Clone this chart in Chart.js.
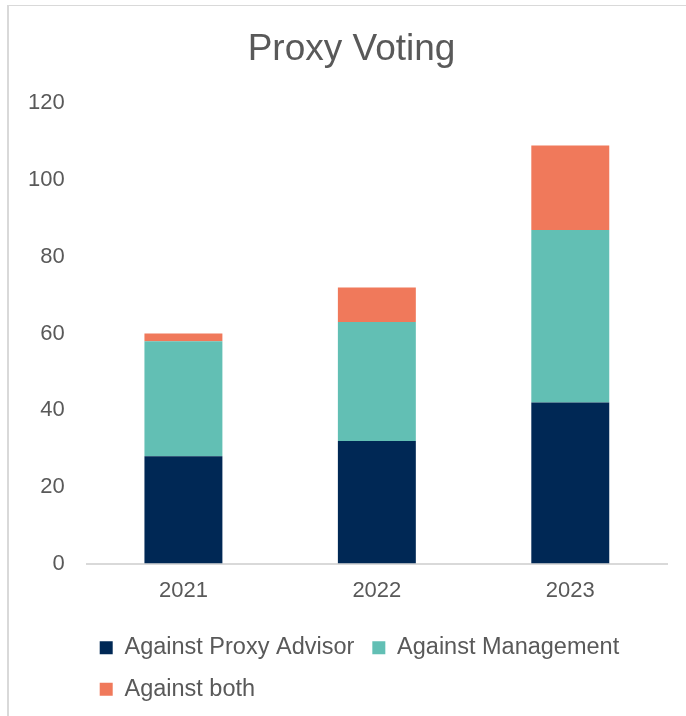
<!DOCTYPE html>
<html>
<head>
<meta charset="utf-8">
<script src="https://cdn.jsdelivr.net/npm/chart.js@4"></script>
<style>
  html, body { margin: 0; padding: 0; background: #ffffff; }
  #wrap { position: relative; width: 686px; height: 716px; overflow: hidden; }
  #frame { position: absolute; left: 7px; top: 5px; right: 0; bottom: 0;
           border-left: 2px solid #d9d9d9; border-top: 1px solid #d9d9d9; }
  canvas { position: absolute; left: 0; top: 0; }
</style>
</head>
<body>
<div id="wrap">
  <div id="frame"></div>
  <canvas id="c" width="686" height="716"></canvas>
</div>
<script>
const categories = ["2021", "2022", "2023"];
const seriesNames = ["Against Proxy Advisor", "Against Management", "Against both"];
const againstProxyAdvisor = [28, 32, 42];
const againstManagement = [30, 31, 45];
const againstBoth = [2, 9, 22];
const yTicks = [0, 20, 40, 60, 80, 100, 120];
const titleText = "Proxy Voting";

const colors = ["#002855", "#62bfb4", "#f0795b"];
const textColor = "#595959";
const fontFamily = "'Liberation Sans', Arial, sans-serif";

const boxShift = {
  id: "boxShift",
  afterLayout(chart) {
    if (chart.legend) { chart.legend.left -= 5; chart.legend.right -= 5; }
    if (chart.titleBlock) { chart.titleBlock.left += 15; chart.titleBlock.right += 15; }
  }
};

new Chart(document.getElementById("c"), {
  type: "bar",
  data: {
    labels: categories,
    datasets: [
      { label: seriesNames[0], data: againstProxyAdvisor, backgroundColor: colors[0] },
      { label: seriesNames[1], data: againstManagement, backgroundColor: colors[1] },
      { label: seriesNames[2], data: againstBoth, backgroundColor: colors[2] }
    ]
  },
  plugins: [boxShift],
  options: {
    responsive: false,
    animation: false,
    devicePixelRatio: 1,
    layout: { padding: { top: 28, left: 6, right: 19, bottom: 5 } },
    datasets: { bar: { categoryPercentage: 1.0, barPercentage: 0.403, borderWidth: 0 } },
    plugins: {
      title: {
        display: true, text: titleText, color: textColor,
        font: { family: fontFamily, size: 37, weight: "normal" },
        padding: { top: 0, bottom: 31 }
      },
      legend: {
        position: "bottom", align: "start", fullSize: false,
        labels: {
          color: textColor, boxWidth: 13, boxHeight: 13, padding: 18,
          font: { family: fontFamily, size: 23.5 }
        }
      },
      tooltip: { enabled: false }
    },
    scales: {
      x: {
        stacked: true,
        grid: { display: false, drawTicks: false },
        border: { display: true, color: "#d9d9d9", width: 2 },
        ticks: { color: textColor, font: { family: fontFamily, size: 22 }, padding: 14 }
      },
      y: {
        stacked: true, min: 0, max: 120,
        afterBuildTicks: (axis) => { axis.ticks = yTicks.map(v => ({ value: v })); },
        grid: { display: false, drawTicks: false },
        border: { display: false },
        ticks: { color: textColor, font: { family: fontFamily, size: 22 }, padding: 22 }
      }
    }
  }
});
</script>
</body>
</html>
